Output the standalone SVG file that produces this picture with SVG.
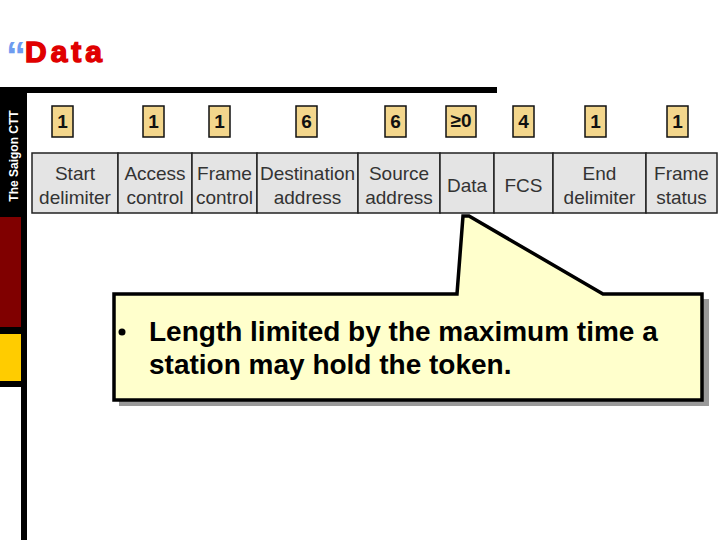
<svg xmlns="http://www.w3.org/2000/svg" width="720" height="540" viewBox="0 0 720 540">
<style>
.cell{fill:#e4e4e4;stroke:#222;stroke-width:1.5}
.lbl{font-family:"Liberation Sans",Arial,sans-serif;font-size:19px;fill:#333;text-anchor:middle}
.nb{fill:#f3d68c;stroke:#111;stroke-width:1.5}
.num{font-family:"Liberation Sans",Arial,sans-serif;font-size:19px;font-weight:bold;fill:#111;text-anchor:middle}
.co{font-family:"Liberation Sans",Arial,sans-serif;font-size:28px;font-weight:bold;fill:#000}
</style>
<rect width="720" height="540" fill="#fff"/>
<g id="sidebar">
<rect x="0" y="87" width="497" height="6" fill="#000"/>
<rect x="0" y="87" width="27" height="300" fill="#000"/>
<rect x="0" y="217" width="21" height="110" fill="#800000"/>
<rect x="0" y="334" width="21" height="47" fill="#ffcc00"/>
<rect x="21" y="380" width="6" height="160" fill="#000"/>
<text transform="translate(18,156) rotate(-90)" text-anchor="middle" font-family="Liberation Sans,Arial,sans-serif" font-size="12" font-weight="bold" fill="#fff">The Saigon CTT</text>
</g>
<g id="title">
<text x="6" y="70" font-family="Liberation Sans,Arial,sans-serif" font-size="40" font-weight="bold" fill="#6f9cf0">“</text>
<text x="25" y="62" font-family="Liberation Sans,Arial,sans-serif" font-size="30" font-weight="bold" fill="#e00000" stroke="#e00000" stroke-width="1.4" letter-spacing="4">Data</text>
</g>
<g id="frame">
<rect class="cell" x="32" y="153" width="86" height="60"/>
<rect class="cell" x="118" y="153" width="74" height="60"/>
<rect class="cell" x="192" y="153" width="65" height="60"/>
<rect class="cell" x="257" y="153" width="101" height="60"/>
<rect class="cell" x="358" y="153" width="82" height="60"/>
<rect class="cell" x="440" y="153" width="54" height="60"/>
<rect class="cell" x="494" y="153" width="59" height="60"/>
<rect class="cell" x="553" y="153" width="93" height="60"/>
<rect class="cell" x="646" y="153" width="71" height="60"/>
<text class="lbl" x="75" y="180">Start</text><text class="lbl" x="75" y="204">delimiter</text>
<text class="lbl" x="155" y="180">Access</text><text class="lbl" x="155" y="204">control</text>
<text class="lbl" x="224.5" y="180">Frame</text><text class="lbl" x="224.5" y="204">control</text>
<text class="lbl" x="307.5" y="180">Destination</text><text class="lbl" x="307.5" y="204">address</text>
<text class="lbl" x="399" y="180">Source</text><text class="lbl" x="399" y="204">address</text>
<text class="lbl" x="467" y="192">Data</text>
<text class="lbl" x="523.5" y="192">FCS</text>
<text class="lbl" x="599.5" y="180">End</text><text class="lbl" x="599.5" y="204">delimiter</text>
<text class="lbl" x="681.5" y="180">Frame</text><text class="lbl" x="681.5" y="204">status</text>
</g>
<g id="sizes">
<rect class="nb" x="52" y="106" width="21" height="31"/><text class="num" x="62.5" y="128">1</text>
<rect class="nb" x="143" y="106" width="21" height="31"/><text class="num" x="153.5" y="128">1</text>
<rect class="nb" x="209" y="106" width="21" height="31"/><text class="num" x="219.5" y="128">1</text>
<rect class="nb" x="296" y="106" width="21" height="31"/><text class="num" x="306.5" y="128">6</text>
<rect class="nb" x="385" y="106" width="21" height="31"/><text class="num" x="395.5" y="128">6</text>
<rect class="nb" x="446" y="106" width="30" height="31"/><text class="num" x="461" y="127">≥0</text>
<rect class="nb" x="513" y="106" width="21" height="31"/><text class="num" x="523.5" y="128">4</text>
<rect class="nb" x="585" y="106" width="21" height="31"/><text class="num" x="595.5" y="128">1</text>
<rect class="nb" x="667" y="106" width="21" height="31"/><text class="num" x="677.5" y="128">1</text>
</g>
<g id="callout">
<rect x="119" y="299" width="590" height="107" fill="#999"/>
<path d="M114,294 H457 L463,216 L469,216 L603,294 H702 V400 H114 Z" fill="#ffffcc" stroke="#000" stroke-width="3.5" stroke-linejoin="miter"/>
<circle cx="122" cy="332" r="3.5" fill="#000"/>
<text class="co" x="149" y="341">Length limited by the maximum time a</text>
<text class="co" x="149" y="374">station may hold the token.</text>
</g>
</svg>
